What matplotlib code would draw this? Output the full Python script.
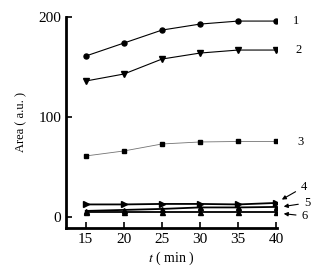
import numpy as np
import matplotlib.pyplot as plt

plt.rcParams['font.family'] = ['Liberation Serif', 'DejaVu Serif']
plt.rcParams['mathtext.fontset'] = 'stix'

# данные
t = [15, 20, 25, 30, 35, 40]
s1 = [161, 174, 187, 193, 196, 196]
s2 = [136, 143, 158, 164, 167, 167]
s3 = [61, 66, 73, 75, 75.5, 75.5]
s4 = [12.5, 12.5, 13, 13, 12.5, 14]
s5 = [6, 7, 8, 9.5, 9.5, 10]
s6 = [4.5, 4.5, 4.5, 4.5, 4.5, 4.5]
labels = ['1', '2', '3', '4', '5', '6']

fig = plt.figure(figsize=(3.2, 2.71), dpi=100)
ax = fig.add_axes([0.206, 0.159, 0.66, 0.778])

ax.plot(t, s1, 'k-', marker='o', ms=3.6, lw=0.8)
ax.plot(t, s2, 'k-', marker='v', ms=4, lw=0.8)
ax.plot(t, s3, '-', color='0.45', marker='s', mfc='k', mec='k', ms=3.2, lw=0.6)
ax.plot(t, s4, 'k-', marker='>', ms=4, lw=1.3)
ax.plot(t, s5, 'k-', marker='^', ms=3.6, lw=1.3)
ax.plot(t, s6, 'k-', marker='^', ms=3.6, lw=1.3)

ax.set_xlim(12.4, 40.1)
ax.set_ylim(-11, 200)
ax.set_xticks(t)
ax.set_yticks([0, 100, 200])
ax.tick_params(direction='in', length=4, width=1.2, labelsize=11)
for s in ['top', 'right']:
    ax.spines[s].set_visible(False)
for s in ['left', 'bottom']:
    ax.spines[s].set_linewidth(2)

ax.set_ylabel('Area ( a.u. )', fontsize=9, labelpad=8)
ax.set_xlabel('$t$ ( min )', fontsize=10, labelpad=3)

# подписи кривых
ax.text(42.2, 196, labels[0], fontsize=9, va='center', clip_on=False)
ax.text(42.5, 167, labels[1], fontsize=9, va='center', clip_on=False)
ax.text(42.8, 75, labels[2], fontsize=9, va='center', clip_on=False)
arr = dict(arrowstyle='-|>', color='k', lw=0.8, mutation_scale=6)
ax.annotate(labels[3], xy=(40.4, s4[-1] + 2), xytext=(43.2, 30), fontsize=9,
            va='center', arrowprops=arr, annotation_clip=False)
ax.annotate(labels[4], xy=(40.6, s5[-1]), xytext=(43.6, 14), fontsize=9,
            va='center', arrowprops=arr, annotation_clip=False)
ax.annotate(labels[5], xy=(40.6, s6[-1] - 1), xytext=(43.3, 1), fontsize=9,
            va='center', arrowprops=arr, annotation_clip=False)

fig.savefig('out.png', dpi=100)
